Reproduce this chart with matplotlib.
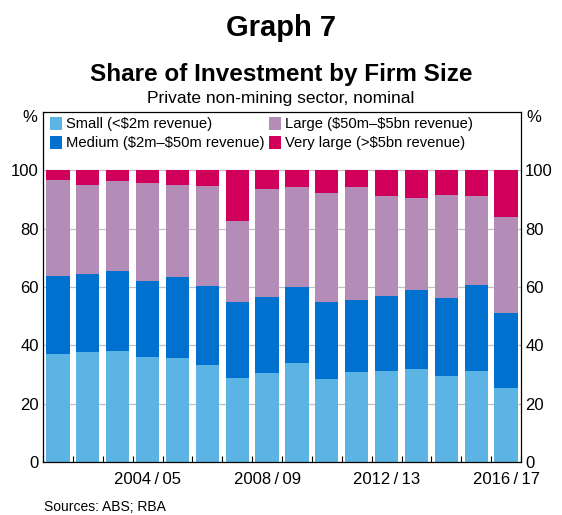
import matplotlib
matplotlib.use("Agg")
import matplotlib.pyplot as plt
import numpy as np
from matplotlib.patches import Patch

plt.rcParams['font.family'] = ['Liberation Sans', 'DejaVu Sans']
plt.rcParams['text.parse_math'] = False

years = ["2001/02", "2002/03", "2003/04", "2004/05", "2005/06", "2006/07", "2007/08", "2008/09",
         "2009/10", "2010/11", "2011/12", "2012/13", "2013/14", "2014/15", "2015/16", "2016/17"]
small = [37.0, 37.6, 38.2, 35.9, 35.8, 33.1, 28.9, 30.4, 33.8, 28.6, 30.8, 31.1, 32.0, 29.5, 31.3, 25.5]
medium = [26.8, 26.9, 27.2, 26.1, 27.5, 27.2, 25.8, 26.2, 26.2, 26.3, 24.9, 25.7, 27.0, 26.7, 29.5, 25.6]
large = [32.8, 30.4, 31.0, 33.7, 31.7, 34.2, 28.1, 37.1, 34.3, 37.4, 38.5, 34.3, 31.4, 35.4, 30.4, 33.0]
very_large = [3.4, 5.1, 3.6, 4.3, 5.0, 5.5, 17.2, 6.3, 5.7, 7.7, 5.8, 8.9, 9.6, 8.4, 8.8, 15.9]

labels = ["Small (<$2m revenue)", "Medium ($2m\u2013$50m revenue)",
          "Large ($50m\u2013$5bn revenue)", "Very large (>$5bn revenue)"]
colors = ["#5BB4E3", "#0071CE", "#B38CB8", "#D0005A"]
tick_labels = {"2004/05": "2004\u2009/\u200905", "2008/09": "2008\u2009/\u200909",
               "2012/13": "2012\u2009/\u200913", "2016/17": "2016\u2009/\u200917"}

fig = plt.figure(figsize=(5.62, 5.15), dpi=100)
ax = fig.add_axes([43/562, 53/515, (521-43)/562, (462-112)/515])

x = np.arange(len(years))
bottom = np.zeros(len(years))
handles = []
for vals, col, lab in zip([small, medium, large, very_large], colors, labels):
    v = np.array(vals)
    ax.bar(x, v, bottom=bottom, width=0.78, color=col, zorder=2, edgecolor='none')
    bottom += v
    handles.append(Patch(facecolor=col, edgecolor='none', label=lab))

ax.set_xlim(-0.5, len(years) - 0.5)
ax.set_ylim(0, 120)
yt = [0, 20, 40, 60, 80, 100]
ax.set_yticks(yt)
ax.set_yticklabels([str(t) for t in yt], fontsize=12)
for t in yt[1:]:
    ax.axhline(t, color='#C0C0C0', lw=0.9, zorder=1)
ax.tick_params(axis='y', length=0, pad=3, labelright=True, right=True)

# minor ticks between bars
ax.set_xticks(np.arange(-0.5, len(years)), minor=True)
ax.tick_params(axis='x', which='minor', direction='in', length=4, color='black', width=0.8)
major_pos = [years.index(k) for k in tick_labels]
ax.set_xticks(major_pos)
ax.set_xticklabels(list(tick_labels.values()), fontsize=12)
ax.tick_params(axis='x', which='major', length=0, pad=7)

for s in ax.spines.values():
    s.set_linewidth(0.9)

ax.legend(handles=handles, ncol=2, loc='upper left', bbox_to_anchor=(-0.01, 1.02),
          frameon=False, fontsize=10.6, handlelength=0.8, handleheight=1.0,
          handletextpad=0.3, columnspacing=0.3, labelspacing=0.3, borderpad=0.3)

fig.text(30/562, 1-118/515, "%", fontsize=12, ha='center', va='center')
fig.text(534/562, 1-118/515, "%", fontsize=12, ha='center', va='center')

fig.text(0.5, 1-28/515, "Graph 7", fontsize=21, fontweight='bold', ha='center', va='center')
fig.text(0.5, 1-74/515, "Share of Investment by Firm Size", fontsize=17.5, fontweight='bold',
         ha='center', va='center')
fig.text(0.5, 1-98/515, "Private non-mining sector, nominal", fontsize=12.5, ha='center', va='center')
fig.text(44/562, 1-507/515, "Sources: ABS; RBA", fontsize=10, ha='left', va='center')

fig.savefig("out.png", dpi=100)
